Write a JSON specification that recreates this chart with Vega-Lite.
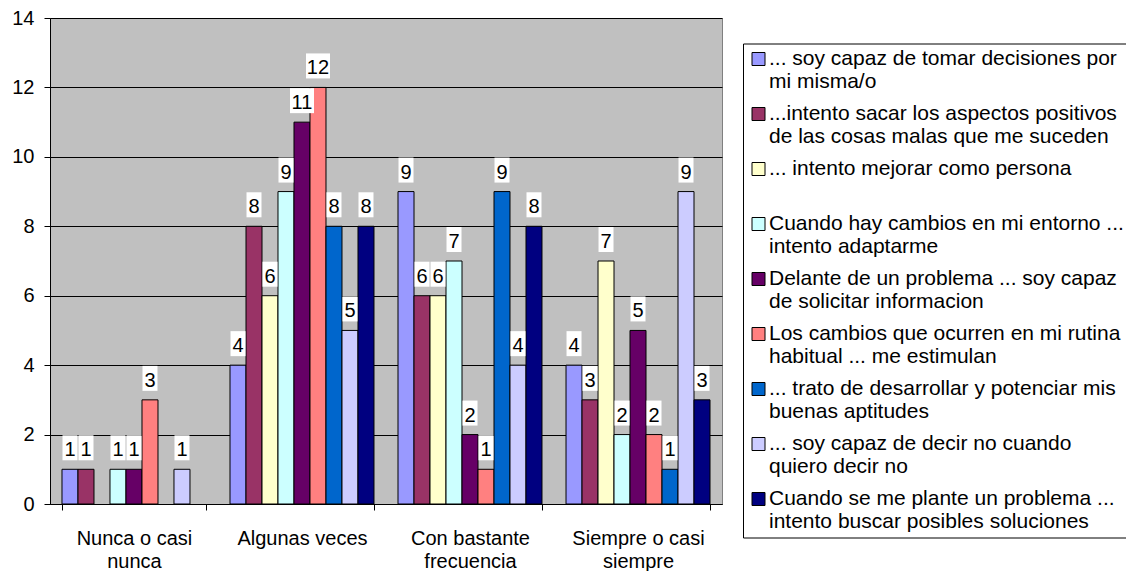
{
  "$schema": "https://vega.github.io/schema/vega-lite/v6.json",
  "width": 672,
  "height": 486,
  "padding": {"left": 11, "top": 8, "right": 0, "bottom": 0},
  "background": "white",
  "config": {
    "font": "Liberation Sans",
    "view": {"fill": "#C0C0C0", "stroke": "#808080", "strokeWidth": 1},
    "style": {"guide-label": {"lineHeight": 23}}
  },
  "data": {
    "values": [
      {"categoria": "Nunca o casi\nnunca", "serie": "... soy capaz de tomar decisiones por\nmi misma/o", "valor": 1},
      {"categoria": "Nunca o casi\nnunca", "serie": "...intento sacar los aspectos positivos\nde las cosas malas que me suceden", "valor": 1},
      {"categoria": "Nunca o casi\nnunca", "serie": "Cuando hay cambios en mi entorno ...\nintento adaptarme", "valor": 1},
      {"categoria": "Nunca o casi\nnunca", "serie": "Delante de un problema ... soy capaz\nde solicitar informacion", "valor": 1},
      {"categoria": "Nunca o casi\nnunca", "serie": "Los cambios que ocurren en mi rutina\nhabitual ... me estimulan", "valor": 3},
      {"categoria": "Nunca o casi\nnunca", "serie": "... soy capaz de decir no cuando\nquiero decir no", "valor": 1},

      {"categoria": "Algunas veces", "serie": "... soy capaz de tomar decisiones por\nmi misma/o", "valor": 4},
      {"categoria": "Algunas veces", "serie": "...intento sacar los aspectos positivos\nde las cosas malas que me suceden", "valor": 8},
      {"categoria": "Algunas veces", "serie": "... intento mejorar como persona", "valor": 6},
      {"categoria": "Algunas veces", "serie": "Cuando hay cambios en mi entorno ...\nintento adaptarme", "valor": 9},
      {"categoria": "Algunas veces", "serie": "Delante de un problema ... soy capaz\nde solicitar informacion", "valor": 11},
      {"categoria": "Algunas veces", "serie": "Los cambios que ocurren en mi rutina\nhabitual ... me estimulan", "valor": 12},
      {"categoria": "Algunas veces", "serie": "... trato de desarrollar y potenciar mis\nbuenas aptitudes", "valor": 8},
      {"categoria": "Algunas veces", "serie": "... soy capaz de decir no cuando\nquiero decir no", "valor": 5},
      {"categoria": "Algunas veces", "serie": "Cuando se me plante un problema ...\nintento buscar posibles soluciones", "valor": 8},

      {"categoria": "Con bastante\nfrecuencia", "serie": "... soy capaz de tomar decisiones por\nmi misma/o", "valor": 9},
      {"categoria": "Con bastante\nfrecuencia", "serie": "...intento sacar los aspectos positivos\nde las cosas malas que me suceden", "valor": 6},
      {"categoria": "Con bastante\nfrecuencia", "serie": "... intento mejorar como persona", "valor": 6},
      {"categoria": "Con bastante\nfrecuencia", "serie": "Cuando hay cambios en mi entorno ...\nintento adaptarme", "valor": 7},
      {"categoria": "Con bastante\nfrecuencia", "serie": "Delante de un problema ... soy capaz\nde solicitar informacion", "valor": 2},
      {"categoria": "Con bastante\nfrecuencia", "serie": "Los cambios que ocurren en mi rutina\nhabitual ... me estimulan", "valor": 1},
      {"categoria": "Con bastante\nfrecuencia", "serie": "... trato de desarrollar y potenciar mis\nbuenas aptitudes", "valor": 9},
      {"categoria": "Con bastante\nfrecuencia", "serie": "... soy capaz de decir no cuando\nquiero decir no", "valor": 4},
      {"categoria": "Con bastante\nfrecuencia", "serie": "Cuando se me plante un problema ...\nintento buscar posibles soluciones", "valor": 8},

      {"categoria": "Siempre o casi\nsiempre", "serie": "... soy capaz de tomar decisiones por\nmi misma/o", "valor": 4},
      {"categoria": "Siempre o casi\nsiempre", "serie": "...intento sacar los aspectos positivos\nde las cosas malas que me suceden", "valor": 3},
      {"categoria": "Siempre o casi\nsiempre", "serie": "... intento mejorar como persona", "valor": 7},
      {"categoria": "Siempre o casi\nsiempre", "serie": "Cuando hay cambios en mi entorno ...\nintento adaptarme", "valor": 2},
      {"categoria": "Siempre o casi\nsiempre", "serie": "Delante de un problema ... soy capaz\nde solicitar informacion", "valor": 5},
      {"categoria": "Siempre o casi\nsiempre", "serie": "Los cambios que ocurren en mi rutina\nhabitual ... me estimulan", "valor": 2},
      {"categoria": "Siempre o casi\nsiempre", "serie": "... trato de desarrollar y potenciar mis\nbuenas aptitudes", "valor": 1},
      {"categoria": "Siempre o casi\nsiempre", "serie": "... soy capaz de decir no cuando\nquiero decir no", "valor": 9},
      {"categoria": "Siempre o casi\nsiempre", "serie": "Cuando se me plante un problema ...\nintento buscar posibles soluciones", "valor": 3}
    ]
  },
  "encoding": {
    "x": {
      "field": "categoria",
      "type": "nominal",
      "sort": null,
      "scale": {"paddingInner": 0.143, "paddingOuter": 0.0714},
      "axis": {
        "title": null,
        "labelAngle": 0,
        "labelFontSize": 20,
        "labelColor": "black",
        "labelExpr": "split(datum.label, '\\n')",
        "labelLineHeight": 23,
        "labelPadding": 18,
        "tickBand": "extent",
        "tickSize": 6,
        "tickColor": "black",
        "domainColor": "black"
      }
    },
    "xOffset": {
      "field": "serie",
      "type": "nominal",
      "scale": {
        "paddingInner": 0,
        "paddingOuter": 0,
        "domain": [
          "... soy capaz de tomar decisiones por\nmi misma/o",
          "...intento sacar los aspectos positivos\nde las cosas malas que me suceden",
          "... intento mejorar como persona",
          "Cuando hay cambios en mi entorno ...\nintento adaptarme",
          "Delante de un problema ... soy capaz\nde solicitar informacion",
          "Los cambios que ocurren en mi rutina\nhabitual ... me estimulan",
          "... trato de desarrollar y potenciar mis\nbuenas aptitudes",
          "... soy capaz de decir no cuando\nquiero decir no",
          "Cuando se me plante un problema ...\nintento buscar posibles soluciones"
        ]
      }
    },
    "y": {
      "field": "valor",
      "type": "quantitative",
      "scale": {"domain": [0, 14], "nice": false},
      "axis": {
        "title": null,
        "values": [0, 2, 4, 6, 8, 10, 12, 14],
        "grid": true,
        "gridColor": "black",
        "gridOpacity": 1,
        "labelFontSize": 20,
        "labelColor": "black",
        "labelPadding": 10,
        "tickSize": 6,
        "tickColor": "black",
        "domainColor": "black"
      }
    }
  },
  "layer": [
    {
      "mark": {"type": "bar", "stroke": "black", "strokeWidth": 1},
      "encoding": {
        "color": {
          "field": "serie",
          "type": "nominal",
          "scale": {
            "domain": [
              "... soy capaz de tomar decisiones por\nmi misma/o",
              "...intento sacar los aspectos positivos\nde las cosas malas que me suceden",
              "... intento mejorar como persona",
              "Cuando hay cambios en mi entorno ...\nintento adaptarme",
              "Delante de un problema ... soy capaz\nde solicitar informacion",
              "Los cambios que ocurren en mi rutina\nhabitual ... me estimulan",
              "... trato de desarrollar y potenciar mis\nbuenas aptitudes",
              "... soy capaz de decir no cuando\nquiero decir no",
              "Cuando se me plante un problema ...\nintento buscar posibles soluciones"
            ],
            "range": ["#9999FF", "#993366", "#FFFFCC", "#CCFFFF", "#660066", "#FF8080", "#0066CC", "#CCCCFF", "#000080"]
          },
          "legend": {
            "title": null,
            "orient": "none",
            "legendX": 693,
            "legendY": 25.5,
            "symbolType": "square",
            "symbolSize": 169,
            "symbolStrokeColor": "black",
            "symbolStrokeWidth": 1,
            "symbolOpacity": 1,
            "labelFontSize": 21,
            "labelColor": "black",
            "labelLimit": 450,
            "labelOffset": 0,
            "labelExpr": "indexof(datum.label, '\\n') >= 0 ? split(datum.label, '\\n') : [datum.label, '']",
            "strokeColor": "black",
            "fillColor": "white",
            "padding": 5,
            "rowPadding": 10
          }
        }
      }
    },
    {
      "mark": {"type": "point", "filled": true, "color": "white", "opacity": 1, "strokeWidth": 0, "size": 625, "yOffset": -21.5},
      "encoding": {
        "shape": {
          "condition": {"test": "datum.valor >= 10", "value": "M-0.96,-1H0.96V1H-0.96Z"},
          "value": "M-0.6,-1H0.6V1H-0.6Z"
        }
      }
    },
    {
      "mark": {"type": "text", "fontSize": 20, "baseline": "alphabetic", "dy": -13, "color": "black"},
      "encoding": {"text": {"field": "valor", "type": "quantitative"}}
    }
  ]
}
